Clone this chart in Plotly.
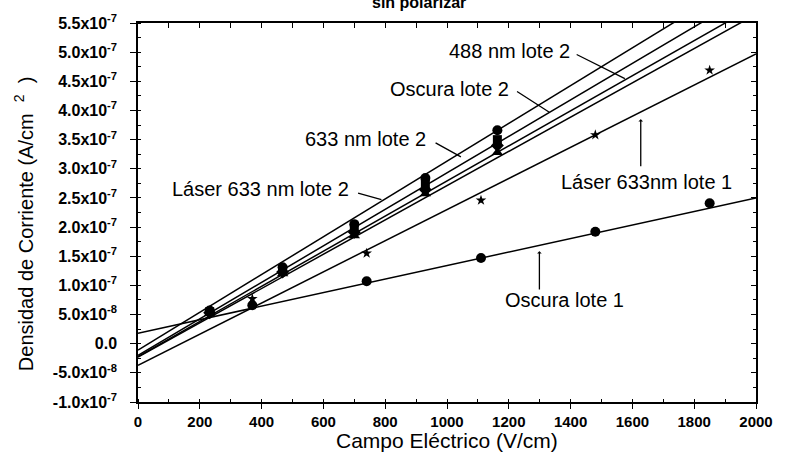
import plotly.graph_objects as go

# ---------------- data ----------------
x_lote1 = [370, 740, 1110, 1480, 1850]
oscura_lote1 = [6.6e-8, 1.07e-7, 1.47e-7, 1.92e-7, 2.41e-7]
laser633_lote1 = [7.7e-8, 1.55e-7, 2.46e-7, 3.58e-7, 4.69e-7]

x_lote2 = [232, 468, 700, 930, 1163]
nm488_lote2 = [5.7e-8, 1.31e-7, 2.05e-7, 2.84e-7, 3.66e-7]
oscura_lote2 = [5.5e-8, 1.27e-7, 1.97e-7, 2.74e-7, 3.50e-7]
nm633_lote2 = [5.3e-8, 1.23e-7, 1.91e-7, 2.64e-7, 3.40e-7]
laser633_lote2 = [5.2e-8, 1.20e-7, 1.85e-7, 2.57e-7, 3.28e-7]

# linear fits (slope, intercept)
fit_names = ["488 nm lote 2", "Oscura lote 2", "633 nm lote 2",
             "Láser 633 nm lote 2", "Láser 633nm lote 1", "Oscura lote 1"]
fit_slope = [3.24e-10, 3.13e-10, 3.01e-10, 2.94e-10, 2.67e-10, 1.16e-10]
fit_intercept = [-1.1e-8, -2.0e-8, -2.2e-8, -2.3e-8, -3.7e-8, 1.8e-8]
fit_x = [0, 2000]

x_ticks = list(range(0, 2001, 200))
y_tickvals = [-1e-7, -5e-8, 0, 5e-8, 1e-7, 1.5e-7, 2e-7, 2.5e-7, 3e-7,
              3.5e-7, 4e-7, 4.5e-7, 5e-7, 5.5e-7]
y_ticktext = ["-1.0x10<sup>-7</sup>", "-5.0x10<sup>-8</sup>", "0.0",
              "5.0x10<sup>-8</sup>", "1.0x10<sup>-7</sup>", "1.5x10<sup>-7</sup>",
              "2.0x10<sup>-7</sup>", "2.5x10<sup>-7</sup>", "3.0x10<sup>-7</sup>",
              "3.5x10<sup>-7</sup>", "4.0x10<sup>-7</sup>", "4.5x10<sup>-7</sup>",
              "5.0x10<sup>-7</sup>", "5.5x10<sup>-7</sup>"]

FONT = "Liberation Sans, Arial, sans-serif"

fig = go.Figure()

# fit lines
for name, m, b in zip(fit_names, fit_slope, fit_intercept):
    fig.add_trace(go.Scatter(x=fit_x, y=[m * xv + b for xv in fit_x], mode="lines",
                             line=dict(color="black", width=1.5), name=name,
                             showlegend=False, hoverinfo="skip"))

series = [
    (x_lote2, nm488_lote2, "circle", 10),
    (x_lote2, oscura_lote2, "square", 9),
    (x_lote2, nm633_lote2, "diamond", 10),
    (x_lote2, laser633_lote2, "triangle-up", 10),
    (x_lote1, oscura_lote1, "circle", 10),
    (x_lote1, laser633_lote1, "star", 8),
]
for xs, ys, sym, sz in series:
    fig.add_trace(go.Scatter(x=xs, y=ys, mode="markers",
                             marker=dict(symbol=sym, size=sz, color="black"),
                             showlegend=False))

# dummy trace for mirrored (inside-tick) axes
fig.add_trace(go.Scatter(x=[None], y=[None], xaxis="x2", yaxis="y2",
                         showlegend=False, hoverinfo="skip"))

def px2x(p):
    return (p - 138) / 622 * 2000

def py2y(p):
    return 5.5e-7 - (p - 20) / 382 * 6.5e-7

ann_font = dict(family=FONT, size=20, color="black")
annotations = []
labels = [
    ("488 nm lote 2", 512, 48),
    ("Oscura lote 2", 452, 87),
    ("633 nm lote 2", 367, 137),
    ("Láser 633 nm lote 2", 261, 187),
    ("Láser 633nm lote 1", 650, 180),
    ("Oscura lote 1", 567, 299),
]
for t, px, py in labels:
    annotations.append(dict(x=px2x(px), y=py2y(py), xref="x", yref="y", text=t,
                            showarrow=False, font=ann_font,
                            xanchor="center", yanchor="middle"))

arrows = [
    ((578, 51), (628, 76), 0),
    ((518, 88), (552, 110), 0),
    ((436, 140), (463, 155), 0),
    ((358, 191), (383, 198), 0),
    ((644, 166), (644, 117), 1),
    ((542, 290), (542, 250), 1),
]
for (tx, ty), (hx, hy), head in arrows:
    annotations.append(dict(x=px2x(hx), y=py2y(hy), ax=px2x(tx), ay=py2y(ty),
                            xref="x", yref="y", axref="x", ayref="y", text="",
                            showarrow=True, arrowhead=head, arrowsize=0.6,
                            arrowwidth=1.3, arrowcolor="black", standoff=0,
                            startstandoff=0))

# title (partly cut off at top)
annotations.append(dict(x=(421 - 138) / 622, y=1 + 21 / 382, xref="paper", yref="paper",
                        text="<b>sin polarizar</b>", showarrow=False,
                        font=dict(family=FONT, size=16, color="black"),
                        xanchor="center", yanchor="middle"))
# axis titles
annotations.append(dict(x=0.5, y=-39 / 382, xref="paper", yref="paper",
                        text="Campo Eléctrico (V/cm)", showarrow=False,
                        font=dict(family=FONT, size=21, color="black"),
                        xanchor="center", yanchor="middle"))
annotations.append(dict(x=(23 - 138) / 622, y=(402 - 222) / 382, xref="paper", yref="paper",
                        text="Densidad de Corriente (A/cm\u00a0\u00a0<sup>2</sup>\u00a0\u00a0)",
                        textangle=-90, showarrow=False,
                        font=dict(family=FONT, size=20, color="black"),
                        xanchor="center", yanchor="middle"))

fig.update_layout(
    width=785, height=461,
    margin=dict(l=138, r=25, t=20, b=59),
    paper_bgcolor="white", plot_bgcolor="white",
    showlegend=False,
    font=dict(family=FONT, color="black"),
    annotations=annotations,
    xaxis=dict(range=[0, 2000], tickvals=x_ticks, ticks="outside", ticklen=5,
               tickwidth=1.3, tickcolor="black",
               minor=dict(dtick=100, tick0=0, ticks="inside", ticklen=3,
                          tickcolor="black", tickwidth=1, showgrid=False),
               showline=True, linecolor="black", linewidth=1.5, mirror=True,
               showgrid=False, zeroline=False,
               tickfont=dict(family=FONT, size=15, color="black", weight="bold")),
    yaxis=dict(range=[-1e-7, 5.5e-7], tickvals=y_tickvals, ticktext=y_ticktext,
               ticks="outside", ticklen=6, tickwidth=1.3, tickcolor="black",
               minor=dict(dtick=2.5e-8, tick0=0, ticks="inside", ticklen=3,
                          tickcolor="black", tickwidth=1, showgrid=False),
               showline=True, linecolor="black", linewidth=1.5, mirror=True,
               showgrid=False, zeroline=False,
               tickfont=dict(family=FONT, size=16, color="black", weight="bold"),
               ticklabelstandoff=10),
    xaxis2=dict(range=[0, 2000], overlaying="x", side="top", anchor="y2",
                tickmode="linear", tick0=0, dtick=100, ticks="inside", ticklen=5,
                tickwidth=1.3, tickcolor="black", showticklabels=False,
                showgrid=False, zeroline=False, showline=False),
    yaxis2=dict(range=[-1e-7, 5.5e-7], overlaying="y", side="right", anchor="x2",
                tickmode="linear", tick0=0, dtick=5e-8, ticks="inside", ticklen=5,
                tickwidth=1.3, tickcolor="black", showticklabels=False,
                minor=dict(dtick=2.5e-8, ticks="inside", ticklen=3, tickcolor="black"),
                showgrid=False, zeroline=False, showline=False),
)

fig.write_html("out.html")
